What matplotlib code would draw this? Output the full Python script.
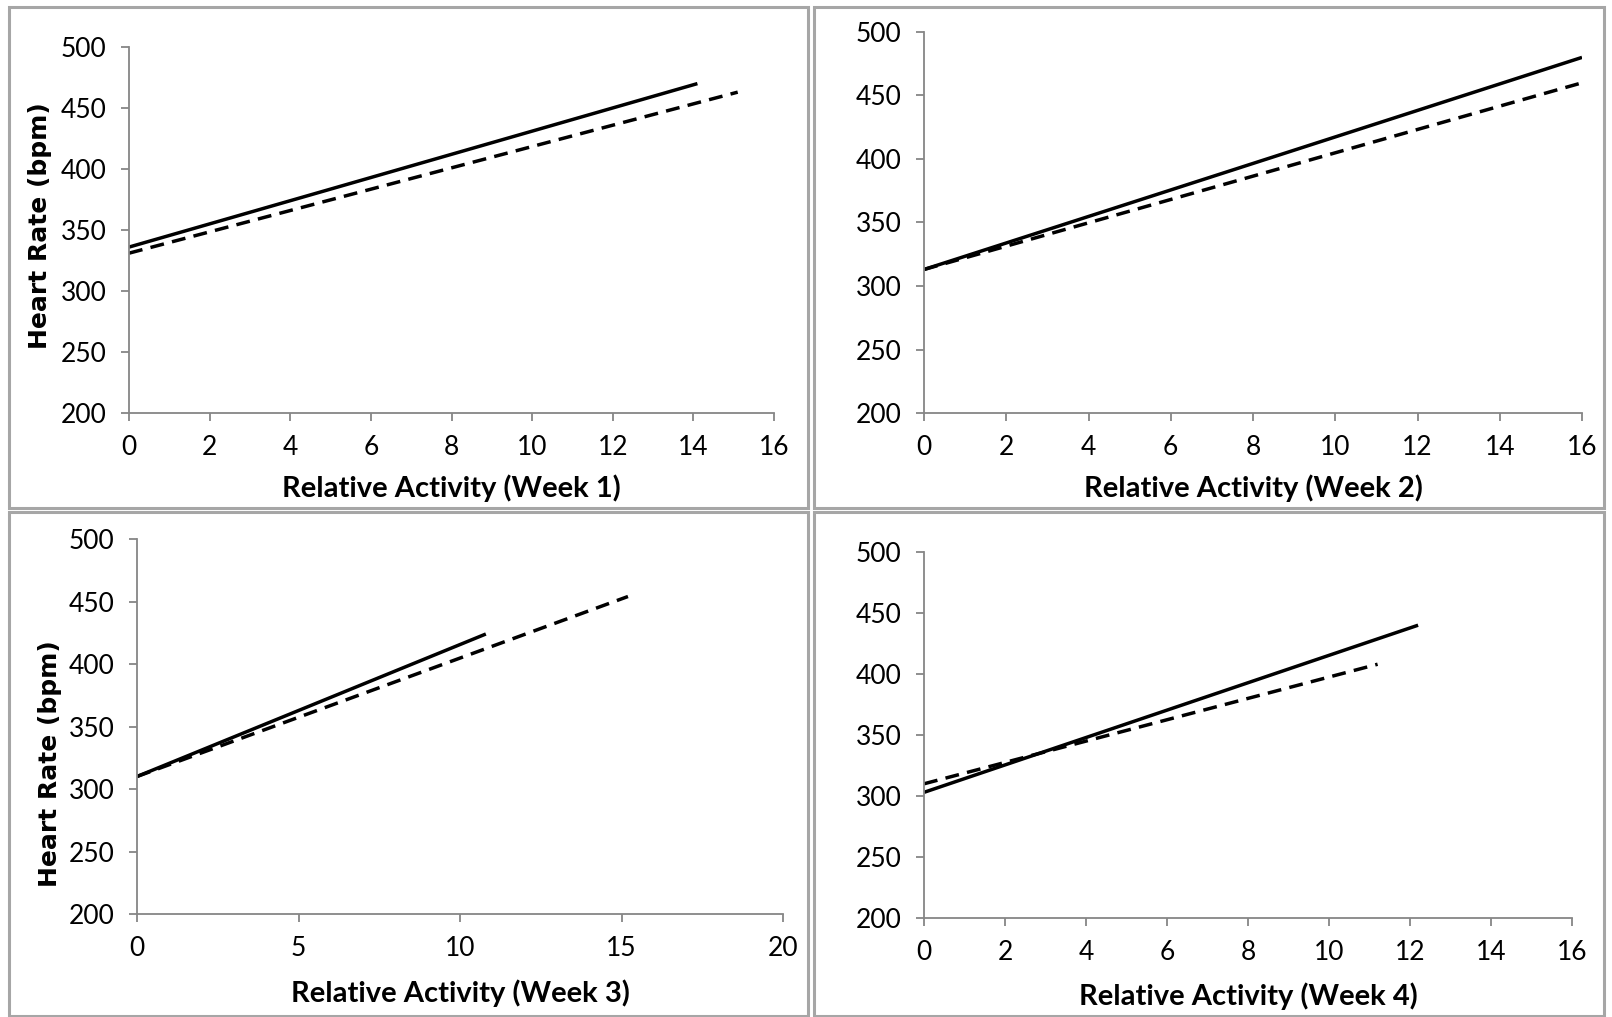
"""
Heart rate vs relative activity, weeks 1-4 (Excel-style 2x2 panels)
"""
import matplotlib
matplotlib.use('Agg')
import matplotlib.pyplot as plt
from matplotlib.patches import Rectangle

W, H = 1612, 1017

# データ（各週の回帰直線の端点）
weeks = ['Week 1', 'Week 2', 'Week 3', 'Week 4']
solid_x = [[0, 14.1], [0, 16.0], [0, 10.8], [0, 12.2]]
solid_y = [[336, 470], [313, 480], [310, 424], [303, 440]]
dashed_x = [[0, 15.1], [0, 16.0], [0, 15.2], [0, 11.2]]
dashed_y = [[331, 463], [313, 460], [310, 454], [310, 408]]
x_max = [16, 16, 20, 16]
x_step = [2, 2, 5, 2]
y_ticks = [200, 250, 300, 350, 400, 450, 500]

# レイアウト（ピクセル: left, right, top, bottom）
axes_px = [(129, 774, 47, 413), (924, 1582, 32, 413),
           (137, 783, 539, 914), (924, 1572, 552, 918)]
frames_px = [(9, 808, 7, 508), (814, 1604, 7, 508),
             (9, 808, 512, 1016), (814, 1604, 512, 1016)]
xlabel_y = [488, 488, 993, 996]
ylabel_pos = [(40, 226), None, (50, 764), None]

TICK_FONT = ['Lato', 'DejaVu Sans']
GREY = '#868686'

fig = plt.figure(figsize=(W / 100, H / 100), dpi=100)

for fl, fr, ft, fb in frames_px:
    fig.patches.append(Rectangle((fl / W, 1 - fb / H), (fr - fl) / W, (fb - ft) / H,
                                 transform=fig.transFigure, fill=False,
                                 edgecolor='#A6A6A6', linewidth=2.2))

for i in range(4):
    l, r, t, b = axes_px[i]
    ax = fig.add_axes([l / W, 1 - b / H, (r - l) / W, (b - t) / H])
    ax.plot(solid_x[i], solid_y[i], color='black', linewidth=2.5, solid_capstyle='butt')
    ax.plot(dashed_x[i], dashed_y[i], color='black', linewidth=2.5,
            linestyle='--', dashes=(4.0, 2.4), dash_capstyle='butt')

    ax.set_xlim(0, x_max[i])
    ax.set_ylim(200, 500)
    ax.set_xticks(range(0, x_max[i] + 1, x_step[i]))
    ax.set_yticks(y_ticks)

    for side in ['top', 'right']:
        ax.spines[side].set_visible(False)
    for side in ['left', 'bottom']:
        ax.spines[side].set_color(GREY)
        ax.spines[side].set_linewidth(1.3)
    ax.tick_params(direction='out', length=6, width=1.3, color=GREY,
                   labelsize=19, pad=10)
    for lab in ax.get_xticklabels() + ax.get_yticklabels():
        lab.set_family(TICK_FONT)

    fig.text((l + r) / 2 / W, 1 - xlabel_y[i] / H, f'Relative Activity ({weeks[i]})',
             ha='center', va='center', fontsize=21, fontweight='bold', family=TICK_FONT)
    if ylabel_pos[i] is not None:
        px, py = ylabel_pos[i]
        fig.text(px / W, 1 - py / H, 'Heart Rate (bpm)', rotation=90,
                 ha='center', va='center', fontsize=18, fontweight='bold',
                 family='DejaVu Sans')

fig.savefig('out.png', dpi=100)
